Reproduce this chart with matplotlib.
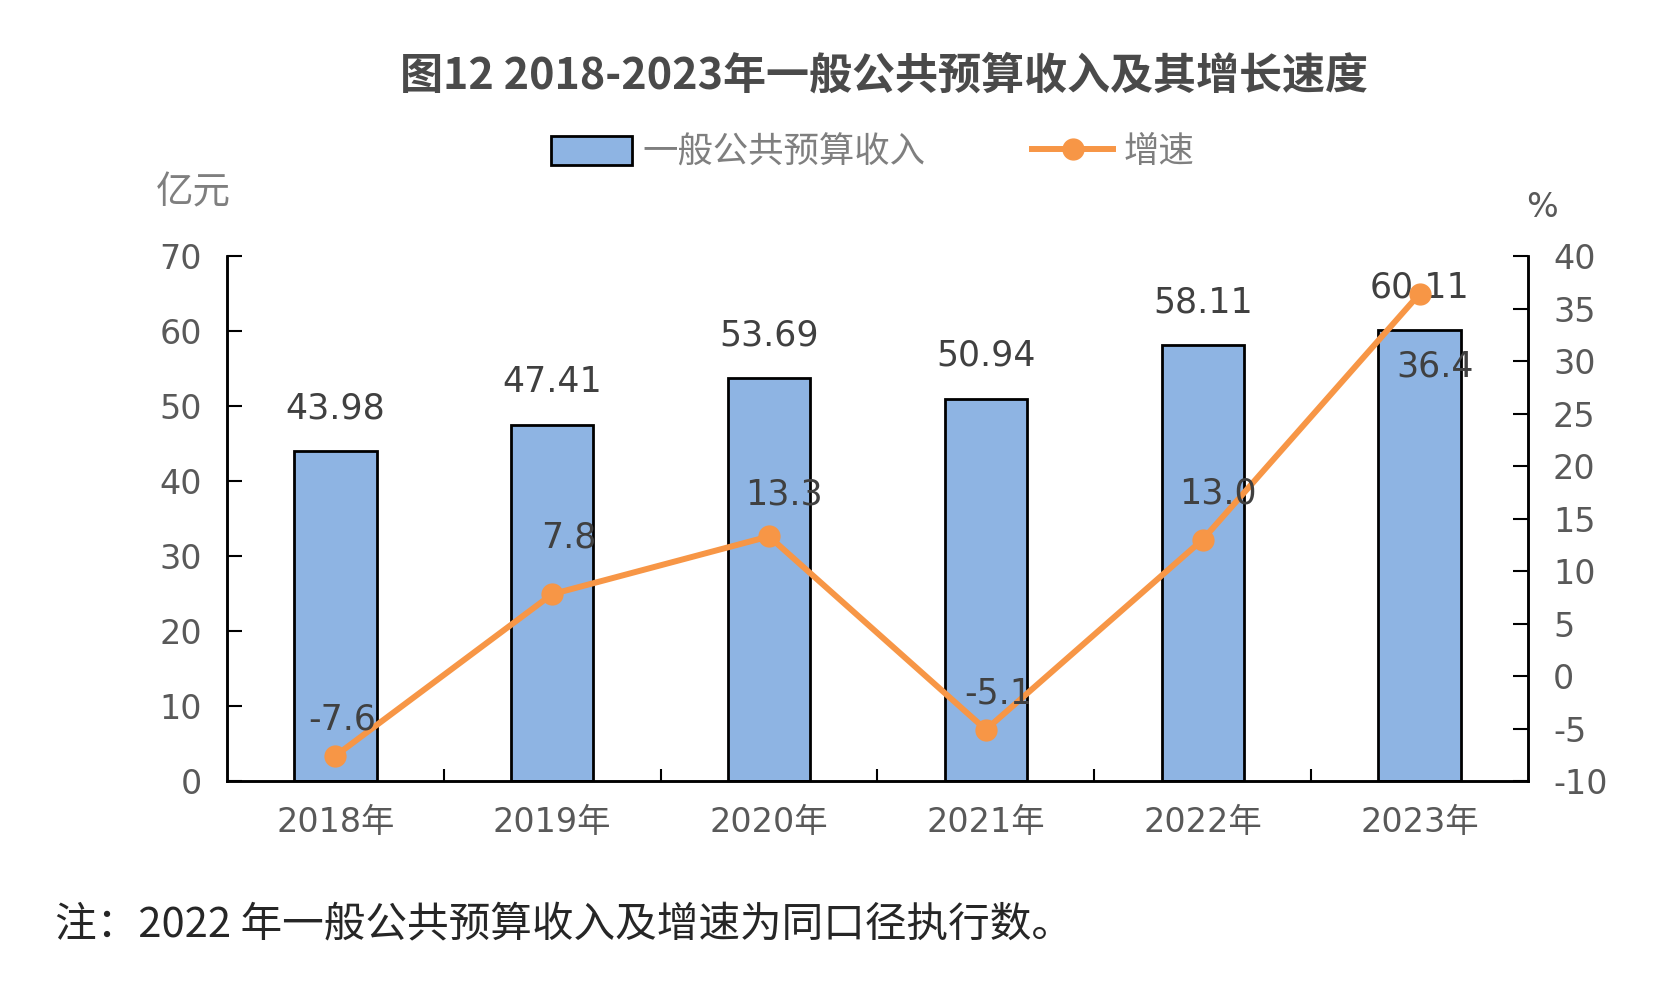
import numpy as np
import matplotlib
matplotlib.use('Agg')
import matplotlib.pyplot as plt
from matplotlib.patches import Patch
from matplotlib.lines import Line2D

plt.rcParams['font.family'] = ['DejaVu Sans', 'Noto Sans CJK SC']
plt.rcParams['axes.unicode_minus'] = False

# datos
years = ['2018年', '2019年', '2020年', '2021年', '2022年', '2023年']
ingreso = [43.98, 47.41, 53.69, 50.94, 58.11, 60.11]   # 亿元
crec = [-7.6, 7.8, 13.3, -5.1, 13.0, 36.4]              # %
ingreso_lbl = ['43.98', '47.41', '53.69', '50.94', '58.11', '60.11']
crec_lbl = ['-7.6', '7.8', '13.3', '-5.1', '13.0', '36.4']

# desplazamientos de etiquetas (puntos)
off_line = [(5, 26), (12, 41), (11, 30), (9, 26), (11, 33), (11, -52)]

c_bar = '#8EB4E3'
c_line = '#F79646'
c_txt = '#404040'
c_tick = '#595959'

fig = plt.figure(figsize=(16.56, 9.9), dpi=100)
ax = fig.add_axes([0.137, 0.211, 0.7857, 0.5304])
ax2 = ax.twinx()

x = np.arange(len(years))
ax.bar(x, ingreso, width=0.38, color=c_bar, edgecolor='black', linewidth=2, zorder=2)
for i in range(len(x)):
    ax.annotate(ingreso_lbl[i], (x[i], ingreso[i]), xytext=(0, 31), textcoords='offset points',
                ha='center', va='center', fontsize=25, color=c_txt)

ax.set_xlim(-0.5, len(years) - 0.5)
ax.set_ylim(0, 70)
ax.set_yticks(np.arange(0, 71, 10))
ax.set_xticks(x)
ax.set_xticklabels(years)
ax.set_xticks(np.arange(0.5, len(years) - 0.5, 1), minor=True)
ax.tick_params(axis='x', which='major', length=0, pad=18, labelsize=24, labelcolor=c_tick)
ax.tick_params(axis='x', which='minor', direction='in', length=9, width=1.5)
ax.tick_params(axis='y', direction='in', length=11, width=1.5, pad=18, labelsize=24, labelcolor=c_tick)

ax2.set_ylim(-10, 40)
ax2.set_yticks(np.arange(-10, 41, 5))
ax2.tick_params(axis='y', direction='in', length=11, width=1.5, pad=18, labelsize=24, labelcolor=c_tick)
ax2.plot(x, crec, color=c_line, linewidth=4.3, marker='o', markersize=15, zorder=3)
for i in range(len(x)):
    ax2.annotate(crec_lbl[i], (x[i], crec[i]), xytext=off_line[i], textcoords='offset points',
                 ha='center', va='center', fontsize=25, color=c_txt)

for a in (ax, ax2):
    a.spines['top'].set_visible(False)
    for s in ['left', 'right', 'bottom']:
        a.spines[s].set_linewidth(1.8)

# textos
fig.text(0.534, 0.924, '图12 2018-2023年一般公共预算收入及其增长速度', ha='center', va='center',
         fontsize=31, fontweight='bold', color='#4a4a4a', family=['Noto Sans CJK SC', 'DejaVu Sans'])
fig.text(0.117, 0.805, '亿元', ha='center', va='center', fontsize=27, color='#7F7F7F',
         family=['Noto Sans CJK SC'])
fig.text(0.931, 0.79, '%', ha='center', va='center', fontsize=24, color=c_tick)
fig.text(0.033, 0.066, '注：2022 年一般公共预算收入及增速为同口径执行数。', ha='left', va='center',
         fontsize=30, color='#262626', family=['Noto Sans CJK SC', 'DejaVu Sans'])

handles = [Patch(facecolor=c_bar, edgecolor='black', linewidth=2),
           Line2D([0], [0], color=c_line, linewidth=4.3, marker='o', markersize=15)]
leg = fig.legend(handles, ['一般公共预算收入', '增速'], loc='center', bbox_to_anchor=(0.527, 0.846),
                 ncol=2, frameon=False, handlelength=2.3, handleheight=0.9, columnspacing=3,
                 handletextpad=0.3, prop={'family': ['Noto Sans CJK SC'], 'size': 25.5})
for t in leg.get_texts():
    t.set_color('#7F7F7F')

plt.savefig('out.png', dpi=100)
